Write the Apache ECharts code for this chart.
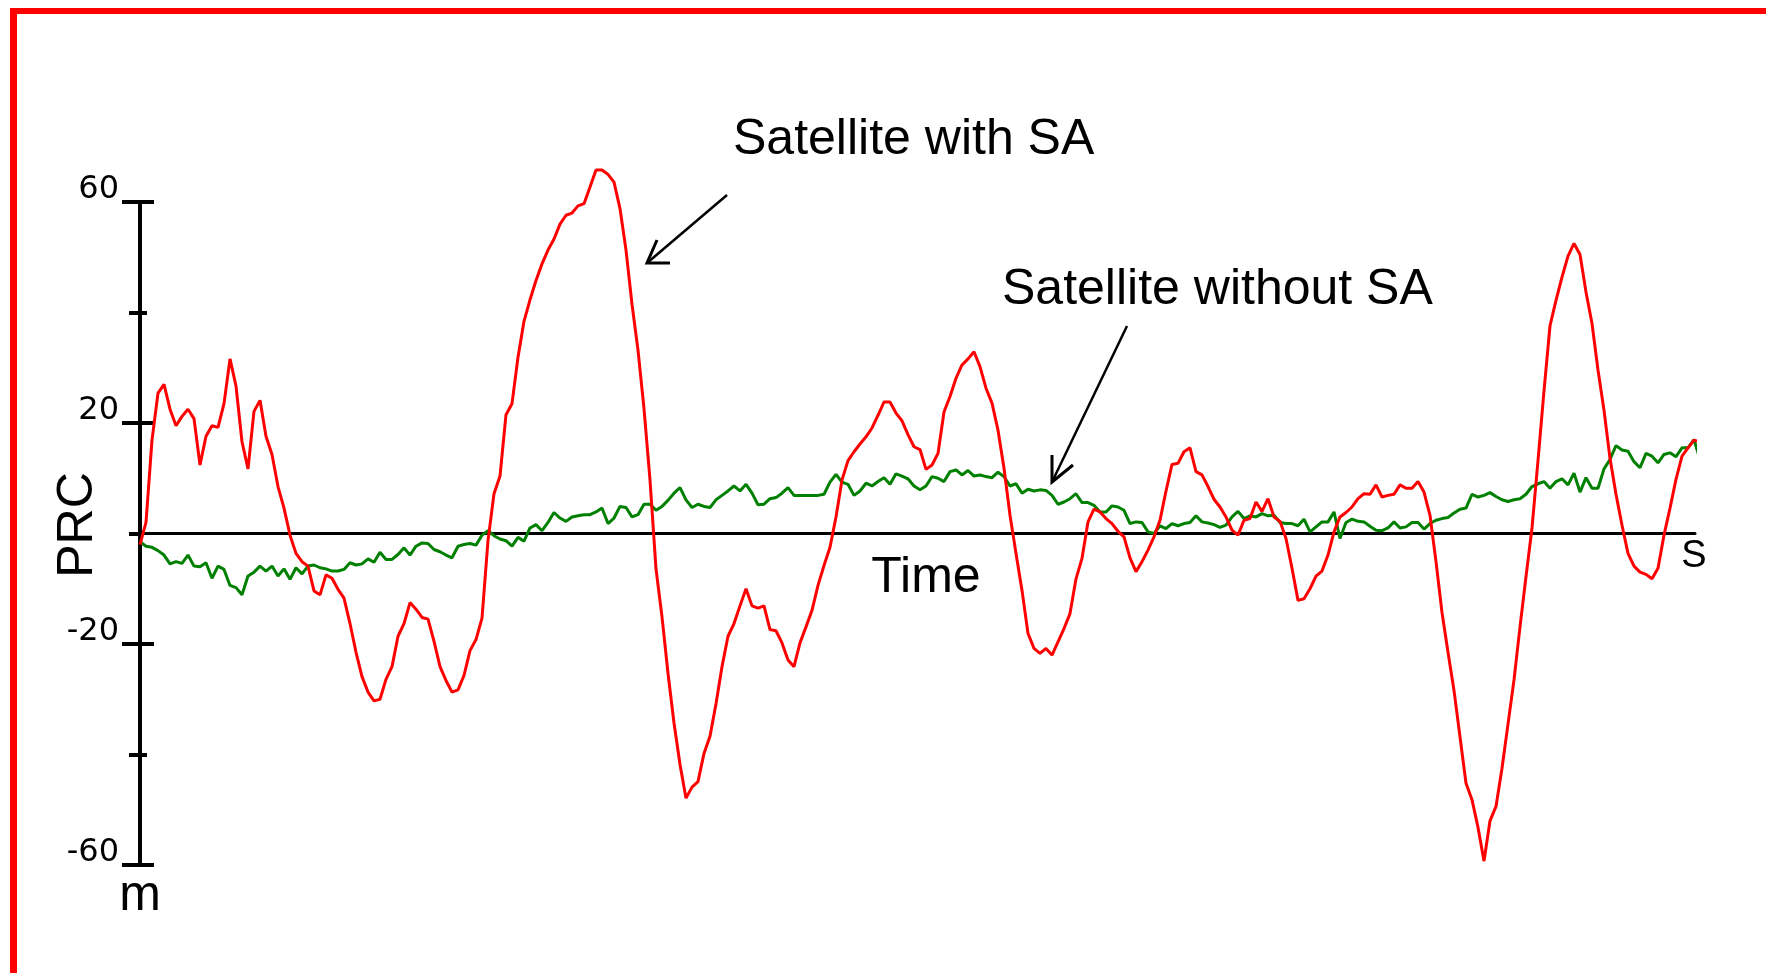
<!DOCTYPE html>
<html>
<head>
<meta charset="utf-8">
<script src="https://cdn.jsdelivr.net/npm/echarts@6/dist/echarts.min.js"></script>
<style>
html,body{margin:0;padding:0;background:#fff;}
#chart{width:1766px;height:973px;}
</style>
</head>
<body>
<div id="chart"></div>
<script>
// Time step between consecutive samples (arbitrary time units)
const TIME_STEP = 6;

// PRC of the satellite with SA (m)
const withSA = [
-2,2.0,16.9,25.4,27.0,22.5,19.5,21.2,22.5,20.8,12.4,17.6,19.5,19.2,23.5,31.6,26.7,16.6,11.7,22.1,
24.1,17.6,14.3,8.5,4.6,-0.3,-3.6,-5.1,-5.9,-10.4,-11.1,-7.5,-8.1,-10.1,-11.7,-16.3,-21.5,-25.9,-28.7,-30.3,
-30.0,-26.4,-24.1,-18.6,-16.3,-12.5,-13.7,-15.2,-15.5,-19.5,-24.1,-26.6,-28.7,-28.3,-25.7,-21.2,-19.2,-15.3,-1.3,7.2,
10.4,21.5,23.5,31.9,38.4,42.3,45.8,48.8,51.3,53.3,56.0,57.6,58.0,59.3,59.7,62.7,65.8,65.8,65.0,63.6,
58.8,51.3,41.5,33.2,22.6,9.7,-6.4,-15.1,-25.3,-34.3,-41.8,-47.9,-45.9,-44.9,-39.8,-36.7,-30.8,-24.1,-18.6,-16.3,
-13.1,-10.0,-13.1,-13.5,-13.1,-17.4,-17.6,-19.8,-22.9,-24.1,-19.8,-16.9,-13.9,-9.4,-5.8,-2.5,3.0,9.7,13.2,14.8,
16.2,17.5,19.1,21.4,23.8,23.8,21.8,20.4,17.9,15.7,15.2,11.6,12.4,14.5,22.0,24.8,28.1,30.5,31.6,32.9,
30.2,26.3,23.6,18.7,11.8,3.3,-3.6,-10.3,-18.1,-20.8,-21.7,-20.8,-22.0,-19.6,-17.2,-14.5,-8.2,-4.5,2.1,4.4,
3.9,2.7,1.8,0.4,-0.6,-4.4,-6.9,-5.1,-3.0,-0.6,2.4,7.7,12.5,12.7,14.8,15.5,11.2,10.6,8.5,6.2,
4.8,3.0,0.6,-0.3,2.4,2.7,5.7,4.0,6.3,3.0,2.2,-0.9,-6.3,-12.1,-11.8,-10.0,-7.7,-6.8,-3.9,0.3,
3.0,3.8,4.8,6.3,7.2,7.1,8.8,6.6,6.9,7.1,8.8,8.2,8.2,9.4,7.5,3.3,-5.1,-14.3,-21.5,-28.4,
-36.8,-45.2,-48.2,-53.2,-59.3,-52.0,-49.4,-42.5,-34.5,-26.5,-16.9,-7.8,1.0,13.2,25.8,37.6,42.2,46.4,50.2,52.5,
50.5,43.7,38.0,29.6,22.3,13.6,7.1,1.5,-3.6,-5.9,-7.0,-7.4,-8.2,-6.3,-0.3,4.6,9.8,14.0,15.5,16.9,
16.6
];

// PRC of the satellite without SA (m)
const withoutSA = [
-1.5,-2.3,-2.5,-3.1,-3.9,-5.5,-5.1,-5.4,-3.9,-5.9,
-6.0,-5.3,-8.1,-5.9,-6.5,-9.4,-9.8,-11.1,-7.7,-7.0,
-5.9,-6.8,-5.9,-7.7,-6.4,-8.3,-6.2,-7.3,-5.9,-5.7,
-6.2,-6.4,-6.8,-6.8,-6.5,-5.3,-5.7,-5.5,-4.6,-5.2,
-3.4,-4.7,-4.7,-3.8,-2.6,-3.9,-2.3,-1.7,-1.8,-2.9,
-3.3,-3.9,-4.4,-2.3,-2.0,-1.8,-2.1,-0.3,0.5,-0.4,
-1.0,-1.3,-2.3,-0.7,-1.4,1.0,1.6,0.5,2.0,3.8,
2.8,2.2,3.0,3.2,3.4,3.4,3.9,4.6,1.8,2.8,
4.9,4.7,3.0,3.4,5.3,5.3,4.2,4.9,6.0,7.3,
8.3,6.1,4.7,5.3,4.9,4.7,6.1,6.9,7.7,8.6,
7.7,8.9,7.3,5.2,5.3,6.3,6.5,7.3,8.3,6.9,
6.9,6.9,6.9,6.9,7.1,9.3,10.7,9.3,8.9,6.9,
7.7,9.1,8.6,9.4,10.1,8.9,10.8,10.4,9.9,8.6,
7.9,8.6,10.3,10.0,9.4,11.2,11.5,10.6,11.4,10.4,
10.6,10.3,10.1,11.1,10.3,8.6,9.0,7.3,8.0,7.7,
7.9,7.8,6.9,5.3,5.7,6.3,7.2,5.6,5.6,5.1,
3.9,3.9,5.0,4.8,4.2,1.8,2.1,2.0,0.3,0.0,
1.4,0.9,1.8,1.4,1.8,2.0,3.2,2.1,1.9,1.6,
1.1,1.5,3.0,4.0,2.7,3.2,3.0,3.6,3.2,3.3,
2.0,1.8,1.8,1.4,2.6,0.3,1.2,2.1,2.1,3.9,
-0.9,2.0,2.6,2.2,2.1,1.3,0.6,0.5,1.0,2.1,
1.0,1.2,2.0,2.0,0.8,1.8,2.4,2.7,2.9,3.7,
4.4,4.6,7.1,6.6,6.9,7.4,6.7,6.1,5.8,6.1,
6.3,7.1,8.5,9.0,9.4,8.2,9.4,9.9,8.8,10.9,
7.5,10.1,8.2,8.2,11.7,13.4,15.9,15.1,14.9,13.0,
11.9,14.5,14.0,12.8,14.3,14.6,13.9,15.5,15.5,17.0,
13.4
];

// Y-axis tick labels and unlabeled ticks
const yLabelTicks = [-60, -20, 20, 60];
const yMinorTicks = [-40, 0, 40];
const yMinorInside = [-40, 40];
const Y_MIN = -60, Y_MAX = 60, T_MAX = 1555;

const toSeries = arr => arr.map((v, i) => [i * TIME_STEP, v]);

const chart = echarts.init(document.getElementById('chart'), null, {renderer: 'canvas'});

const baseY = {
  type: 'value', position: 'left', offset: 0, min: Y_MIN, max: Y_MAX, interval: 20,
  splitLine: {show: false}, axisLabel: {show: false}, axisLine: {show: false}
};

const option = {
  backgroundColor: '#ffffff',
  animation: false,
  grid: {left: 140, right: 71, top: 202, bottom: 108, containLabel: false},
  xAxis: {
    type: 'value', min: 0, max: T_MAX,
    axisLine: {show: true, onZero: true, lineStyle: {color: '#000', width: 3}},
    axisTick: {show: false}, axisLabel: {show: false}, splitLine: {show: false}
  },
  yAxis: [
    Object.assign({}, baseY, {
      axisLine: {show: true, onZero: false, lineStyle: {color: '#000', width: 4}},
      axisTick: {show: true, customValues: yLabelTicks, length: 18, inside: false, lineStyle: {color: '#000', width: 4}},
      axisLabel: {show: true, customValues: yLabelTicks, margin: 21, color: '#000',
        fontFamily: 'DejaVu Sans', fontSize: 32, verticalAlign: 'bottom', lineHeight: 25}
    }),
    Object.assign({}, baseY, {
      axisTick: {show: true, customValues: yLabelTicks, length: 14, inside: true, lineStyle: {color: '#000', width: 4}}
    }),
    Object.assign({}, baseY, {
      axisTick: {show: true, customValues: yMinorTicks, length: 11, inside: false, lineStyle: {color: '#000', width: 4}}
    }),
    Object.assign({}, baseY, {
      axisTick: {show: true, customValues: yMinorInside, length: 7, inside: true, lineStyle: {color: '#000', width: 4}}
    })
  ],
  series: [
    {
      name: 'Satellite without SA', type: 'line', data: toSeries(withoutSA),
      showSymbol: false, symbol: 'none', clip: false, z: 3,
      lineStyle: {color: '#008000', width: 3}
    },
    {
      name: 'Satellite with SA', type: 'line', data: toSeries(withSA),
      showSymbol: false, symbol: 'none', clip: false, z: 4,
      lineStyle: {color: '#ff0000', width: 3}
    }
  ],
  graphic: [
    {type: 'rect', shape: {x: 10, y: 8, width: 7, height: 965}, style: {fill: '#ff0000'}, silent: true},
    {type: 'rect', shape: {x: 10, y: 8, width: 1756, height: 6}, style: {fill: '#ff0000'}, silent: true},
    {type: 'text', x: 733, y: 140, style: {text: 'Satellite with SA', fill: '#000',
      font: '50px "Liberation Sans", Arial, sans-serif', textAlign: 'left', textVerticalAlign: 'middle'}},
    {type: 'text', x: 1002, y: 290, style: {text: 'Satellite without SA', fill: '#000',
      font: '50px "Liberation Sans", Arial, sans-serif', textAlign: 'left', textVerticalAlign: 'middle'}},
    {type: 'text', x: 926, y: 578, style: {text: 'Time', fill: '#000',
      font: '50px "Liberation Sans", Arial, sans-serif', textAlign: 'center', textVerticalAlign: 'middle'}},
    {type: 'text', x: 1694, y: 557, style: {text: 'S', fill: '#000',
      font: '38px "Liberation Sans", Arial, sans-serif', textAlign: 'center', textVerticalAlign: 'middle'}},
    {type: 'text', x: 78, y: 525, rotation: Math.PI / 2, style: {text: 'PRC', fill: '#000',
      font: '50px "Liberation Sans", Arial, sans-serif', textAlign: 'center', textVerticalAlign: 'middle'}},
    {type: 'text', x: 140, y: 896, style: {text: 'm', fill: '#000',
      font: '50px "Liberation Sans", Arial, sans-serif', textAlign: 'center', textVerticalAlign: 'middle'}},
    {type: 'polyline', shape: {points: [[727, 195], [647, 263]]}, style: {stroke: '#000', lineWidth: 2.5, fill: null}},
    {type: 'polyline', shape: {points: [[670, 263], [647, 263], [657, 240]]}, style: {stroke: '#000', lineWidth: 3, fill: null}},
    {type: 'polyline', shape: {points: [[1127, 326], [1052, 482]]}, style: {stroke: '#000', lineWidth: 2.5, fill: null}},
    {type: 'polyline', shape: {points: [[1052, 455], [1052, 482], [1073, 465]]}, style: {stroke: '#000', lineWidth: 3, fill: null}}
  ]
};
chart.setOption(option);
</script>
</body>
</html>
